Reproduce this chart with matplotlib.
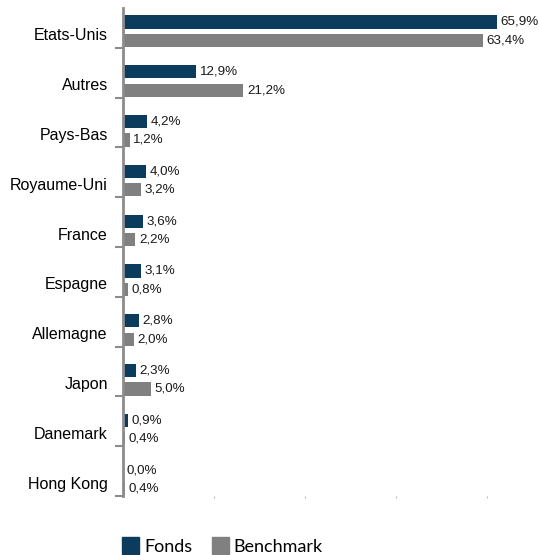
import matplotlib
matplotlib.use("Agg")
import matplotlib.pyplot as plt
from matplotlib.patches import Patch
import numpy as np

countries = ["Etats-Unis", "Autres", "Pays-Bas", "Royaume-Uni", "France",
             "Espagne", "Allemagne", "Japon", "Danemark", "Hong Kong"]
fonds = [65.9, 12.9, 4.2, 4.0, 3.6, 3.1, 2.8, 2.3, 0.9, 0.0]
bench = [63.4, 21.2, 1.2, 3.2, 2.2, 0.8, 2.0, 5.0, 0.4, 0.4]

NAVY = "#0B3C5D"
GREY = "#808080"
AXC = "#8C8C8C"

W, H = 539, 555
fig = plt.figure(figsize=(W / 100, H / 100), dpi=100)
# axes: x from 123 px to right edge, y from 8 px to 496 px
ax = fig.add_axes([123 / W, 1 - 496 / H, (W - 123) / W, 488 / H])

y = np.arange(len(countries))
bh = 0.265
yf = y - 0.02
yb = y + 0.35
ax.barh(yf, fonds, height=bh, color=NAVY)
ax.barh(yb, bench, height=bh, color=GREY)

for yy, v in zip(yf, fonds):
    ax.annotate(f"{v:.1f}%".replace(".", ","), (v, yy), xytext=(2.5, 0),
                textcoords="offset points", va="center", ha="left",
                fontsize=9.6, family="Liberation Sans", color="#1a1a1a")
for yy, v in zip(yb, bench):
    ax.annotate(f"{v:.1f}%".replace(".", ","), (v, yy), xytext=(2.5, 0),
                textcoords="offset points", va="center", ha="left",
                fontsize=9.6, family="Liberation Sans", color="#1a1a1a")

ax.set_xlim(0, (W - 123) / 5.68)
ax.set_ylim(9.5, -0.3)

# category labels (no tick marks) and separator ticks
ax.set_yticks(y + 0.23)
ax.set_yticklabels(countries, fontsize=11.5, family="Liberation Sans")
ax.tick_params(axis="y", length=0, pad=11)
ax.set_yticks(y + 0.5, minor=True)
ax.tick_params(axis="y", which="minor", length=6, width=1.5, color=AXC)

ax.set_xticks([16, 32, 48, 64])
ax.set_xticklabels([])
ax.tick_params(axis="x", length=1.5, width=0.8, color="#bbbbbb", direction="out")

for s in ["top", "right", "bottom"]:
    ax.spines[s].set_visible(False)
ax.spines["left"].set_color(AXC)
ax.spines["left"].set_linewidth(2)

handles = [Patch(color=NAVY, label="Fonds"), Patch(color=GREY, label="Benchmark")]
fig.legend(handles=handles, loc="lower left", bbox_to_anchor=(106 / W, -16 / H),
           ncol=2, frameon=False, prop={"family": "Lato", "size": 13},
           handlelength=0.95, handleheight=1.0, handletextpad=0.25, columnspacing=1.1)

fig.savefig("out.png", dpi=100)
